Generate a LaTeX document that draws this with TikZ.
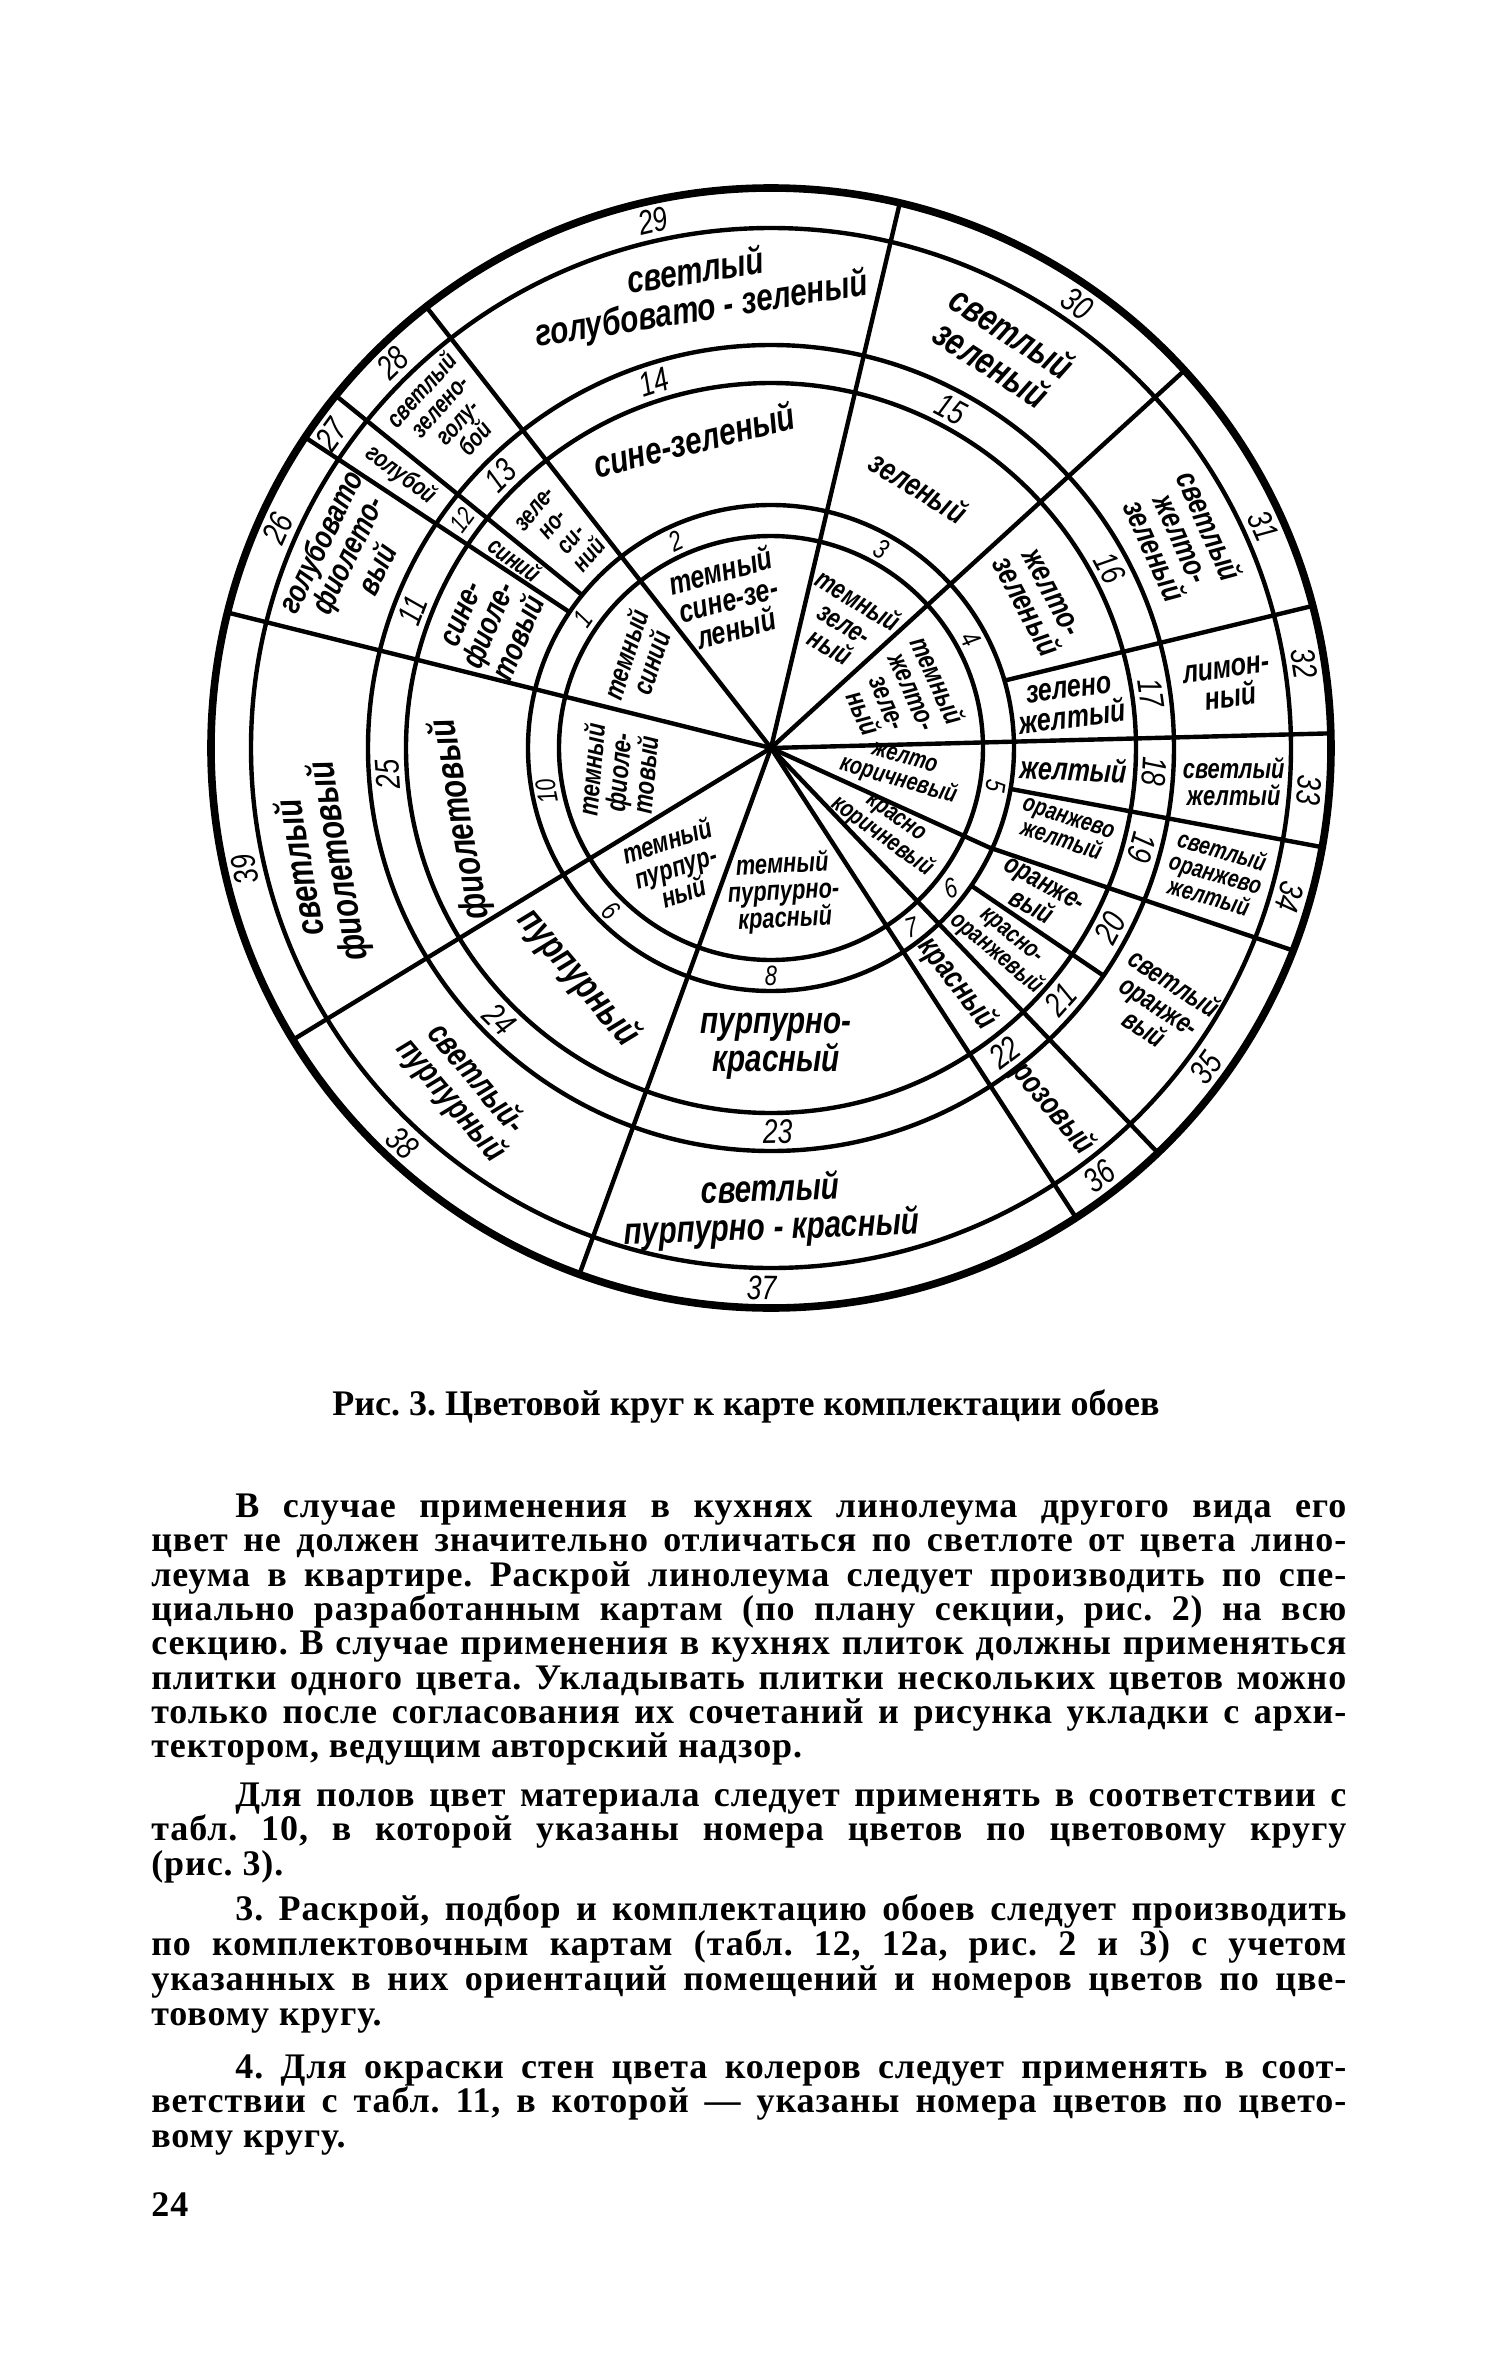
\documentclass[tikz,border=0pt]{standalone}
\usepackage{fontspec}
\newfontfamily\wf[FakeStretch=0.78]{Liberation Sans}
\newfontfamily\bodyf[LetterSpace=2.5]{Liberation Serif}
\newfontfamily\capf{Liberation Serif}
\newcommand\JL[2]{\makebox[#1][s]{#2}}
\frenchspacing
\begin{document}
\begin{tikzpicture}[x=0.5pt,y=0.5pt,
  ring/.style={line width=2.2pt},
  rim/.style={line width=3.8pt},
  lb/.style={font=\wf\bfseries\itshape\fontsize{16}{15}\selectfont, align=center, inner sep=0pt},
  lbl/.style={font=\wf\bfseries\itshape\fontsize{17}{16.5}\selectfont, align=center, inner sep=0pt},
  lbm/.style={font=\wf\bfseries\itshape\fontsize{14}{13.5}\selectfont, align=center, inner sep=0pt},
  lbs/.style={font=\wf\bfseries\itshape\fontsize{12.5}{12}\selectfont, align=center, inner sep=0pt},
  lbb/.style={font=\wf\bfseries\itshape\fontsize{19}{19}\selectfont, align=center, inner sep=0pt},
  nm/.style={font=\wf\itshape\fontsize{14}{14}\selectfont, inner sep=0pt},
  nmb/.style={font=\wf\itshape\fontsize{17}{17}\selectfont, inner sep=0pt},
  nms/.style={font=\wf\itshape\fontsize{13}{13}\selectfont, inner sep=0pt},
  body/.style={font=\bodyf\bfseries\fontsize{18}{17}\selectfont, anchor=base west, inner sep=0pt},
]
\fill[white] (-771,748) rectangle (729,-1615);
\useasboundingbox (-771,748) rectangle (729,-1615);

% ---------- circles ----------
\draw[rim] (0,0) circle[radius=560];
\foreach \r in {212,243,365,403,520} \draw[ring] (0,0) circle[radius=\r];

% ---------- spokes ----------
\foreach \a in {128,76.7,42.4,1.5,-46.3,-57,250,211.4,166} \draw[ring] (0,0) -- (\a:560);
\draw[ring] (0,0) -- (-24.5:240) -- (-21.2:560);
\draw[ring] (16.1:243) -- (14.7:560);
\draw[ring] (-9.7:243) -- (-10.2:560);
\draw[ring] (-34.5:243) -- (-34.4:403);
\draw[ring] (146:243) -- (146.3:560);
\draw[ring] (141:243) -- (141:560);

% ---------- inner names ----------
\node[lbm,rotate=72] (d1) at (146:160) {темный\\синий};
\node[lb,rotate=15] (d2) at (106:155) {темный\\сине-зе-\\леный};
\node[lbm,rotate=-31] (d3) at (59.5:145) {темный\\зеле-\\ный};
\node[lbm,rotate=-66] (d4) at (21.5:140) {темный\\желто-\\зеле-\\ный};
\node[lbs,rotate=-16] (d5) at (-10:132) {желто\\коричневый};
\node[lbs,rotate=-36] (d6) at (-34.5:142) {красно\\коричневый};
\node[lbm,rotate=3] (d8) at (-85:145) {темный\\пурпурно-\\красный};
\node[lbm,rotate=18] (d9) at (231:152) {темный\\пурпур-\\ный};
\node[lbm,rotate=85] (d10) at (189:155) {темный\\фиоле-\\товый};

% ---------- numbers 1-10 ----------
\node[nm,rotate=55] (k1) at (145.6:228) {1};
\node[nm,rotate=25] (k2) at (114.6:228) {2};
\node[nm,rotate=-29] (k3) at (61:228) {3};
\node[nm,rotate=-61] (k4) at (28.5:228) {4};
\node[nm,rotate=-99] (k5) at (-9.5:228) {5};
\node[nm,rotate=20] (k6) at (-38:228) {6};
\node[nm,rotate=15] (k7) at (-52:228) {7};
\node[nm,rotate=0] (k8) at (-90:228) {8};
\node[nm,rotate=136] (k9) at (225.7:228) {9};
\node[nm,rotate=101] (k10) at (191:228) {10};

% ---------- names 11-25 ----------
\node[lb,rotate=67] (n11) at (156.5:305) {сине-\\фиоле-\\товый};
\node[lbs,rotate=-36] (n12) at (143.6:318) {синий};
\node[lbs,rotate=50] (n13) at (134:300) {зеле-\\но-\\си-\\ний};
\node[lbb,rotate=14] (n14) at (104:318) {сине-зеленый};
\node[lb,rotate=-32] (n15) at (60.5:300) {зеленый};
\node[lb,rotate=-62] (n16) at (29:305) {желто-\\зеленый};
\node[lb,rotate=7] (n17) at (8.3:303) {зелено\\желтый};
\node[lb,rotate=-3] (n18) at (-4:303) {желтый};
\node[lbs,rotate=-18] (n19) at (-15.5:305) {оранжево\\желтый};
\node[lbm,rotate=-29] (n20) at (-29:305) {оранже-\\вый};
\node[lbs,rotate=-40] (n21) at (-40.5:305) {красно-\\оранжевый};
\node[lb,rotate=-52] (n22) at (-51.7:300) {красный};
\node[lbb,rotate=0] (n23) at (-89:298) {пурпурно-\\красный};
\node[lbb,rotate=-50] (n24) at (230:300) {пурпурный};
\node[lbb,rotate=100] (n25) at (193:318) {фиолетовый};

% ---------- numbers 11-25 ----------
\node[nmb,rotate=69] (k11) at (159:384) {11};
\node[nms,rotate=53] (k12) at (143.5:384) {12};
\node[nmb,rotate=45] (k13) at (134.8:384) {13};
\node[nmb,rotate=18] (k14) at (107.7:384) {14};
\node[nmb,rotate=-28] (k15) at (62:384) {15};
\node[nmb,rotate=-62] (k16) at (28:384) {16};
\node[nmb,rotate=-82] (k17) at (8.2:384) {17};
\node[nmb,rotate=-93] (k18) at (-3.5:384) {18};
\node[nmb,rotate=-105] (k19) at (-15:384) {19};
\node[nmb,rotate=62] (k20) at (-28:384) {20};
\node[nmb,rotate=48] (k21) at (-41:384) {21};
\node[nmb,rotate=37] (k22) at (-52.5:384) {22};
\node[nmb,rotate=1] (k23) at (-89:384) {23};
\node[nmb,rotate=-45] (k24) at (225:384) {24};
\node[nmb,rotate=94] (k25) at (184:384) {25};

% ---------- names 26-39 ----------
\node[lb,rotate=64] (o26) at (155.5:465) {голубовато\\фиолето-\\вый};
\node[lbs,rotate=-36] (o27) at (143.6:460) {голубой};
\node[lbs,rotate=48] (o28) at (134:465) {светлый\\зелено-\\голу-\\бой};
\node[lbb,rotate=9] (o29) at (99:462) {светлый\\голубовато - зеленый};
\node[lbb,rotate=-33] (o30) at (60:462) {светлый\\зеленый};
\node[lb,rotate=-66] (o31) at (27:462) {светлый\\желто-\\зеленый};
\node[lb,rotate=8] (o32) at (8:462) {лимон-\\ный};
\node[lbm,rotate=0] (o33) at (-4.2:464) {светлый\\желтый};
\node[lbs,rotate=-16] (o34) at (-15.7:462) {светлый\\оранжево\\желтый};
\node[lbm,rotate=-33] (o35) at (-33.5:466) {светлый\\оранже-\\вый};
\node[lb,rotate=-50] (o36) at (-52:458) {розовый};
\node[lbb,rotate=2] (o37) at (-90:462) {светлый\\пурпурно - красный};
\node[lbl,rotate=-50] (o38) at (228:460) {светлый-\\пурпурный};
\node[lbb,rotate=100] (o39) at (194.5:465) {светлый\\фиолетовый};

% ---------- numbers 26-39 ----------
\node[nmb,rotate=66] (k26) at (156:540) {26};
\node[nmb,rotate=54] (k27) at (144.5:540) {27};
\node[nmb,rotate=44] (k28) at (134.5:540) {28};
\node[nmb,rotate=13] (k29) at (102.6:540) {29};
\node[nmb,rotate=-35] (k30) at (55.4:540) {30};
\node[nmb,rotate=-66] (k31) at (24.3:540) {31};
\node[nmb,rotate=-81] (k32) at (9:540) {32};
\node[nmb,rotate=-94] (k33) at (-4.5:540) {33};
\node[nmb,rotate=-106] (k34) at (-16:540) {34};
\node[nmb,rotate=54] (k35) at (-36.3:540) {35};
\node[nmb,rotate=37] (k36) at (-52.5:540) {36};
\node[nmb,rotate=-1] (k37) at (-91:540) {37};
\node[nmb,rotate=-43] (k38) at (227:540) {38};
\node[nmb,rotate=103] (k39) at (193:540) {39};

% ---------- caption ----------
\node[font=\capf\bfseries\fontsize{18}{18}\selectfont, anchor=base, inner sep=0pt] (cap) at (-25,-667) {Рис. 3. Цветовой круг к карте комплектации обоев};

% ---------- body text ----------
\node[body] (p1a) at (-536,-769) {\JL{555.5pt}{В случае применения в кухнях линолеума другого вида его}};
\node[body] (p1b) at (-620,-803) {\JL{597.5pt}{цвет не должен значительно отличаться по светлоте от цвета лино-}};
\node[body] (p1c) at (-620,-838) {\JL{597.5pt}{леума в квартире. Раскрой линолеума следует производить по спе-}};
\node[body] (p1d) at (-620,-872) {\JL{597.5pt}{циально разработанным картам (по плану секции, рис. 2) на всю}};
\node[body] (p1e) at (-620,-906) {\JL{597.5pt}{секцию. В случае применения в кухнях плиток должны применяться}};
\node[body] (p1f) at (-620,-941) {\JL{597.5pt}{плитки одного цвета. Укладывать плитки нескольких цветов можно}};
\node[body] (p1g) at (-620,-975) {\JL{597.5pt}{только после согласования их сочетаний и рисунка укладки с архи-}};
\node[body] (p1h) at (-620,-1009) {тектором, ведущим авторский надзор.};

\node[body] (p2a) at (-536,-1058) {\JL{555.5pt}{Для полов цвет материала следует применять в соответствии с}};
\node[body] (p2b) at (-620,-1092) {\JL{597.5pt}{табл. 10, в которой указаны номера цветов по цветовому кругу}};
\node[body] (p2c) at (-620,-1127) {(рис. 3).};

\node[body] (p3a) at (-536,-1172) {\JL{555.5pt}{3. Раскрой, подбор и комплектацию обоев следует производить}};
\node[body] (p3b) at (-620,-1207) {\JL{597.5pt}{по комплектовочным картам (табл. 12, 12а, рис. 2 и 3) с учетом}};
\node[body] (p3c) at (-620,-1242) {\JL{597.5pt}{указанных в них ориентаций помещений и номеров цветов по цве-}};
\node[body] (p3d) at (-620,-1277) {товому кругу.};

\node[body] (p4a) at (-536,-1330) {\JL{555.5pt}{4. Для окраски стен цвета колеров следует применять в соот-}};
\node[body] (p4b) at (-620,-1364) {\JL{597.5pt}{ветствии с табл. 11, в которой — указаны номера цветов по цвето-}};
\node[body] (p4c) at (-620,-1399) {вому кругу.};

\node[body] (pg) at (-620,-1468) {24};
\end{tikzpicture}
\end{document}
